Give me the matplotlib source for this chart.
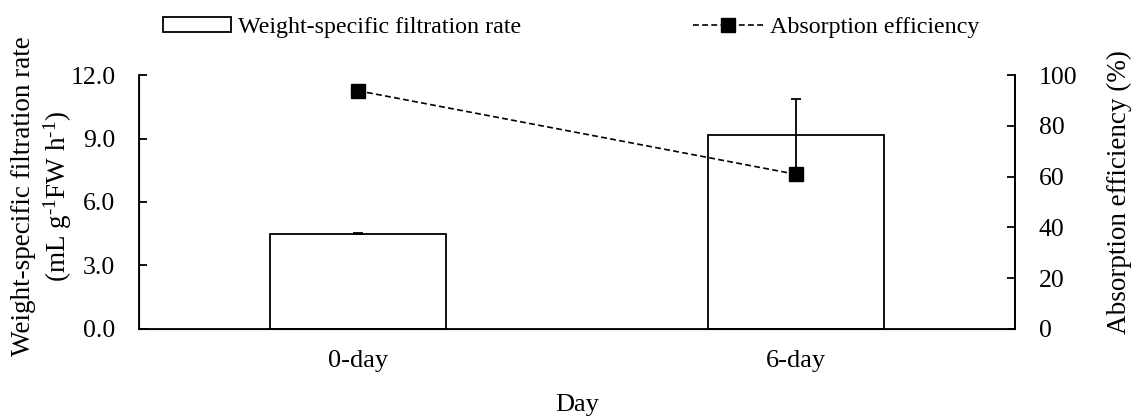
import numpy as np
import matplotlib.pyplot as plt
from matplotlib.patches import Rectangle
from matplotlib.lines import Line2D

plt.rcParams['font.family'] = ['Liberation Serif', 'DejaVu Serif']
plt.rcParams['mathtext.fontset'] = 'custom'
plt.rcParams['mathtext.rm'] = 'Liberation Serif'
plt.rcParams['mathtext.it'] = 'Liberation Serif'
plt.rcParams['font.size'] = 18.5

days = ['0-day', '6-day']
filtration = [4.50, 9.15]
filtration_err = [0.03, 1.70]
absorption = [93.8, 60.9]

x = np.arange(len(days))

fig = plt.figure(figsize=(11.33, 4.19), dpi=100)
ax = fig.add_axes([0.1227, 0.2148, 0.7732, 0.6062])

ax.bar(x, filtration, width=0.4, color='white', edgecolor='black', linewidth=1.3,
       yerr=filtration_err, capsize=3.6, error_kw=dict(ecolor='black', elinewidth=1.3, capthick=1.3),
       zorder=2)
ax.set_xlim(-0.5, 1.5)
ax.set_ylim(0, 12)
yt = np.arange(0, 12.1, 3)
ax.set_yticks(yt)
ax.set_yticklabels(['%.1f' % v for v in yt])
ax.set_xticks(x)
ax.set_xticklabels(days, fontsize=19)
ax.tick_params(axis='y', direction='in', length=6, width=1.3, pad=17)
ax.tick_params(axis='x', length=0, pad=15)
ax.spines['top'].set_visible(False)
for s in ['left', 'bottom', 'right']:
    ax.spines[s].set_linewidth(1.3)
ax.set_xlabel('Day', fontsize=19, labelpad=16)

ax2 = ax.twinx()
ax2.plot(x, absorption, ls='--', dashes=(3.5, 2), color='black', lw=1.2, marker='s', ms=10,
         mfc='black', mec='black', zorder=3)
ax2.set_ylim(0, 100)
ax2.set_yticks(np.arange(0, 101, 20))
ax2.tick_params(axis='y', direction='in', length=6, width=1.3, pad=17)
ax2.spines['top'].set_visible(False)
ax2.spines['right'].set_linewidth(1.3)
ax2.set_zorder(ax.get_zorder() + 1)

# axis titles placed in figure coordinates
fig.text(0.0375, 0.532, 'Weight-specific filtration rate\n(mL g$^{\\text{-1}}$FW h$^{\\text{-1}}$)',
         rotation=90, ha='center', va='center', fontsize=19.5, linespacing=1.25)
fig.text(0.9876, 0.542, 'Absorption efficiency (%)', rotation=90,
         ha='center', va='center', fontsize=19.5)

# legend entries laid out across the top
bar_handle = Rectangle((0, 0), 1, 1, facecolor='white', edgecolor='black', linewidth=1.3)
line_handle = Line2D([], [], ls='--', dashes=(3.5, 2), color='black', lw=1.2, marker='s', ms=10)
fig.legend([bar_handle], ['Weight-specific filtration rate'], loc='center left',
           bbox_to_anchor=(0.1337, 0.935), frameon=False, handlelength=2.8,
           handleheight=0.6, handletextpad=0.3, borderpad=0, fontsize=17.3)
fig.legend([line_handle], ['Absorption efficiency'], loc='center left',
           bbox_to_anchor=(0.601, 0.935), frameon=False, handlelength=2.9,
           handletextpad=0.3, borderpad=0, fontsize=17.3)

fig.savefig('out.png', dpi=100)
